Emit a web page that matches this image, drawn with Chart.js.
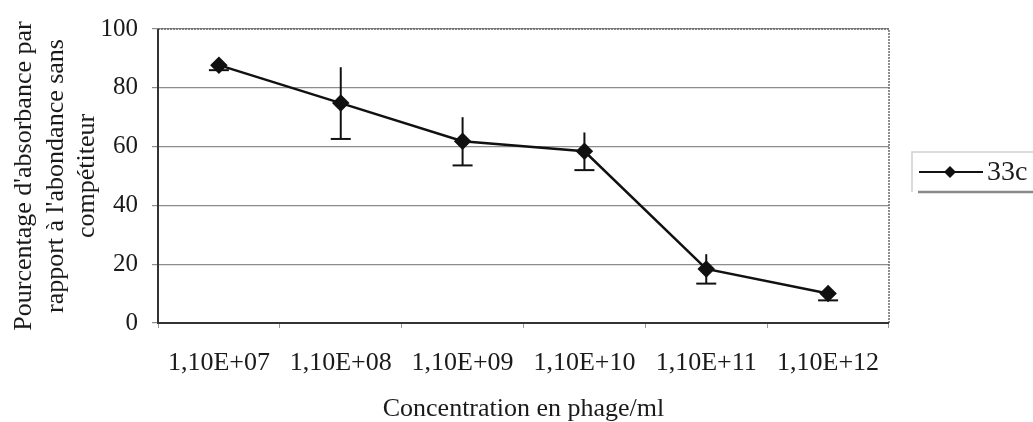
<!DOCTYPE html>
<html><head><meta charset="utf-8">
<script src="https://cdn.jsdelivr.net/npm/chart.js@4/dist/chart.umd.min.js"></script>
<style>html,body{margin:0;padding:0;background:#fff}#wrap{width:1033px;height:422px}</style>
</head><body><div id="wrap"><canvas id="c" width="1033" height="422"></canvas></div>
<script>
const categories = ['1,10E+07','1,10E+08','1,10E+09','1,10E+10','1,10E+11','1,10E+12'];
const seriesName = '33c';
const values = [87.7, 74.8, 61.8, 58.4, 18.4, 10.0];
const errors = [1.7, 12.2, 8.2, 6.4, 5.0, 2.3];
const yTicks = [0, 20, 40, 60, 80, 100];
const yTitle = ["Pourcentage d'absorbance par", "rapport à l'abondance sans", "compétiteur"];
const xTitle = 'Concentration en phage/ml';

const FONT = 'Liberation Serif, Times New Roman, serif';
const TXT = '#1a1a1a';

const errorBars = {
  id: 'errorBars',
  afterDatasetsDraw(chart) {
    const ctx = chart.ctx, x = chart.scales.x, y = chart.scales.y;
    ctx.save();
    ctx.strokeStyle = '#111'; ctx.lineWidth = 2;
    values.forEach((v, i) => {
      const px = x.getPixelForValue(i);
      const top = y.getPixelForValue(v + errors[i]);
      const bot = y.getPixelForValue(v - errors[i]);
      ctx.beginPath(); ctx.moveTo(px, top); ctx.lineTo(px, bot); ctx.stroke();
      ctx.beginPath(); ctx.moveTo(px - 10, bot); ctx.lineTo(px + 10, bot); ctx.stroke();
    });
    ctx.restore();
  }
};

const frame = {
  id: 'frame',
  beforeDatasetsDraw(chart) {
    const {ctx, chartArea: a} = chart;
    ctx.save();
    ctx.strokeStyle = '#6a6a6a'; ctx.lineWidth = 1.5; ctx.setLineDash([2, 1]);
    ctx.beginPath(); ctx.moveTo(a.left, a.top); ctx.lineTo(a.right, a.top); ctx.lineTo(a.right, a.bottom); ctx.stroke();
    ctx.setLineDash([]);
    ctx.strokeStyle = '#333'; ctx.lineWidth = 2;
    ctx.beginPath(); ctx.moveTo(a.left, a.top); ctx.lineTo(a.left, a.bottom); ctx.lineTo(a.right, a.bottom); ctx.stroke();
    ctx.restore();
  }
};

const legendBox = {
  id: 'legendBox',
  afterDraw(chart) {
    const ctx = chart.ctx, ds = chart.data.datasets[0];
    const x0 = 912, y0 = 152, y1 = 192, x1 = 1033, cy = 172;
    ctx.save();
    ctx.strokeStyle = '#cfcfcf'; ctx.lineWidth = 1.5;
    ctx.beginPath(); ctx.moveTo(x1, y0); ctx.lineTo(x0, y0); ctx.lineTo(x0, y1); ctx.stroke();
    ctx.strokeStyle = '#8a8a8a'; ctx.lineWidth = 2.5;
    ctx.beginPath(); ctx.moveTo(x0 + 6, y1); ctx.lineTo(x1, y1); ctx.stroke();
    ctx.strokeStyle = ds.borderColor; ctx.lineWidth = 2;
    ctx.beginPath(); ctx.moveTo(919, cy); ctx.lineTo(983, cy); ctx.stroke();
    ctx.fillStyle = ds.pointBackgroundColor;
    const r = 6;
    ctx.beginPath(); ctx.moveTo(950, cy - r); ctx.lineTo(950 + r, cy); ctx.lineTo(950, cy + r); ctx.lineTo(950 - r, cy); ctx.closePath(); ctx.fill();
    ctx.fillStyle = TXT; ctx.font = '28px ' + FONT; ctx.textBaseline = 'middle'; ctx.textAlign = 'left';
    ctx.fillText(ds.label, 987, cy + 1);
    ctx.restore();
  }
};

new Chart(document.getElementById('c'), {
  type: 'line',
  data: {
    labels: categories,
    datasets: [{
      label: seriesName,
      data: values,
      borderColor: '#111',
      borderWidth: 2.5,
      pointStyle: 'rectRot',
      pointRadius: 7,
      pointBackgroundColor: '#111',
      pointBorderColor: '#111',
      tension: 0
    }]
  },
  options: {
    responsive: false,
    animation: false,
    layout: { padding: { left: 0, right: 144, top: 25, bottom: 0 } },
    plugins: { legend: { display: false }, tooltip: { enabled: false } },
    scales: {
      x: {
        offset: true,
        grid: { display: true, drawOnChartArea: false, drawTicks: true, tickLength: 5, offset: true, color: '#999' },
        border: { display: false },
        ticks: { color: TXT, font: { family: FONT, size: 26 }, padding: 20, maxRotation: 0, autoSkip: false },
        title: { display: true, text: xTitle, color: TXT, font: { family: FONT, size: 26, lineHeight: 1.0 }, padding: { top: 10, bottom: 0 } },
        afterFit(s) { s.height = 99; }
      },
      y: {
        min: 0, max: 100,
        afterBuildTicks(s) { s.ticks = yTicks.map(v => ({ value: v })); },
        grid: { color: '#8c8c8c', lineWidth: 1.2, drawTicks: true, tickLength: 6 },
        border: { display: false },
        ticks: { color: TXT, font: { family: FONT, size: 25 }, padding: 14 },
        title: { display: true, text: yTitle, color: TXT, font: { family: FONT, size: 26, lineHeight: 1.2 }, padding: { top: 9, bottom: 0 } },
        afterFit(s) { s.width = 158; }
      }
    }
  },
  plugins: [frame, errorBars, legendBox]
});
</script></body></html>
